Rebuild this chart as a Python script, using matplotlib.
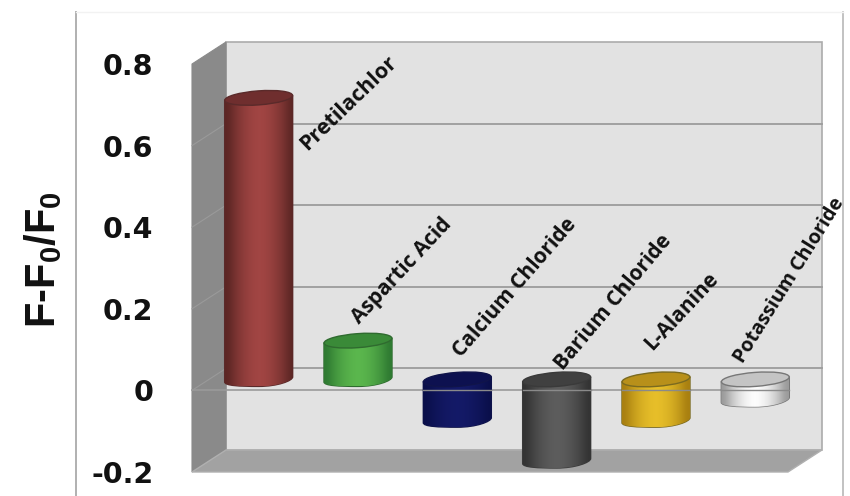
import numpy as np
import matplotlib
matplotlib.use('Agg')
import matplotlib.pyplot as plt
from matplotlib.patches import Ellipse, PathPatch, Polygon
from matplotlib.path import Path
from matplotlib.transforms import IdentityTransform

# dados
categorias = ['Pretilachlor', 'Aspartic Acid', 'Calcium Chloride', 'Barium Chloride', 'L-Alanine', 'Potassium Chloride']
valores = [0.69, 0.095, -0.10, -0.20, -0.10, -0.05]
ticks_y = [-0.2, 0, 0.2, 0.4, 0.6, 0.8]
ticks_txt = ['-0.2', '0', '0.2', '0.4', '0.6', '0.8']

# cor lateral escura, cor lateral clara, tampa
cores = [('#5c2624', '#a34644', '#6f2e2e'),
         ('#2f7a32', '#5cb84e', '#3a8a38'),
         ('#0a0f4a', '#141a68', '#0d1150'),
         ('#333333', '#5e5e5e', '#404040'),
         ('#a87f10', '#e8c02a', '#b8901a'),
         ('#9a9a9a', '#ffffff', '#c4c4c4')]
borda = ['#5a2a2a', '#2f6b2f', '#10144a', '#3a3a3a', '#7a6a20', '#777777']

# posicao do texto em pixels: inicio x, inicio y, angulo, tamanho
pos_rotulos = [(303, 147, 44, 15.5), (355, 321, 47, 15), (457, 354, 49, 15),
               (559, 367, 50, 15), (648, 347, 47, 15), (739, 361, 58, 14.2)]

W, H = 850, 496
esc_x = 99.33   # px por categoria
esc_y = 408.0   # px por unidade de F
prof_x = 34 / esc_x
prof_y = 22 / esc_y
larg = 68 / esc_x
elip_h = 14 / esc_y

plt.rcParams['mathtext.fontset'] = 'custom'
plt.rcParams['mathtext.bf'] = 'Liberation Sans:bold'
plt.rcParams['mathtext.rm'] = 'Liberation Sans:bold'
plt.rcParams['mathtext.default'] = 'bf'


def px(x, y):
    return (x - 192) / esc_x, (472 - y) / esc_y - 0.2


fig = plt.figure(figsize=(W / 100, H / 100), dpi=100)
ax = fig.add_axes([0, 0, 1, 1])
ax.set_xlim((0 - 192) / esc_x, (W - 192) / esc_x)
ax.set_ylim((472 - H) / esc_y - 0.2, 472 / esc_y - 0.2)
ax.axis('off')

n = len(categorias)
y0, y1 = ticks_y[0], ticks_y[-1]

# paredes
ax.add_patch(Polygon([(prof_x, y0 + prof_y), (n + prof_x, y0 + prof_y), (n + prof_x, y1 + prof_y), (prof_x, y1 + prof_y)],
                     fc='#e2e2e2', ec='#ababab', lw=1.2, zorder=1))
ax.add_patch(Polygon([(0, y0), (prof_x, y0 + prof_y), (prof_x, y1 + prof_y), (0, y1)],
                     fc='#8a8a8a', ec='#8a8a8a', lw=0.8, zorder=1))
ax.add_patch(Polygon([(0, y0), (n, y0), (n + prof_x, y0 + prof_y), (prof_x, y0 + prof_y)],
                     fc='#a2a2a2', ec='#b0b0b0', lw=1, zorder=1))

# grades
for t in ticks_y[1:-1]:
    ax.plot([prof_x, n + prof_x], [t + prof_y, t + prof_y], color='#9c9c9c', lw=1.3, zorder=2)
    ax.plot([0, prof_x], [t, t + prof_y], color='#9a9a9a', lw=0.8, zorder=2)

# cilindros
grad = np.array([0, .35, .6, .8, .92, 1, .92, .8, .6, .35, 0])
for i, (v, c, b) in enumerate(zip(valores, cores, borda)):
    cx = i + 0.5 + prof_x / 2
    base = prof_y / 2
    topo = v + prof_y / 2
    sup, inf = max(base, topo), min(base, topo)
    xe, xd = cx - larg / 2, cx + larg / 2
    # inclinacao da elipse em unidades de dados
    inc = 5 / esc_y / 2
    h = elip_h / 2
    k = 0.5522848
    dx = larg / 2

    verts = [(xe, sup - inc), (xe, inf - inc),
             (xe, inf - inc - k * h), (cx - k * dx, inf - h), (cx, inf - h),
             (cx + k * dx, inf - h), (xd, inf + inc - k * h), (xd, inf + inc),
             (xd, sup + inc), (xe, sup - inc)]
    codes = [Path.MOVETO, Path.LINETO, Path.CURVE4, Path.CURVE4, Path.CURVE4,
             Path.CURVE4, Path.CURVE4, Path.CURVE4, Path.LINETO, Path.CLOSEPOLY]
    corpo = PathPatch(Path(verts, codes), fc='none', ec=b, lw=1, zorder=3 + i * 0.1)
    ax.add_patch(corpo)

    c0 = np.array(matplotlib.colors.to_rgb(c[0]))
    c1 = np.array(matplotlib.colors.to_rgb(c[1]))
    img = np.outer(grad, c1 - c0) + c0
    im = ax.imshow(img[np.newaxis, :, :], extent=(xe, xd, inf - h, sup + inc), aspect='auto',
                   interpolation='bicubic', zorder=3 + i * 0.1)
    im.set_clip_path(corpo)

    # tampa
    ang = np.degrees(np.arctan2(5, 68))
    xp, yp = ax.transData.transform((cx, sup))
    tampa = Ellipse((xp, yp), 68, 14, angle=ang, fc=c[2], ec=b, lw=1,
                    transform=IdentityTransform(), zorder=3.05 + i * 0.1)
    ax.add_patch(tampa)

ax.set_xlim((0 - 192) / esc_x, (W - 192) / esc_x)
ax.set_ylim((472 - H) / esc_y - 0.2, 472 / esc_y - 0.2)

# linha do zero na frente, passa sobre as barras negativas
ax.plot([0, n], [0, 0], color='#9a9a9a', lw=1.2, zorder=3.02)
for i, v in enumerate(valores):
    if v < 0:
        cx = i + 0.5 + prof_x / 2
        ax.plot([cx - larg / 2, cx + larg / 2], [0, 0], color='#8a8a8a', lw=1, zorder=6)

# moldura
ax.plot(*zip(px(76, 12), px(76, 496)), color='#b0b0b0', lw=1.4, zorder=1)
ax.plot(*zip(px(843, 12), px(843, 496)), color='#b8b8b8', lw=1.2, zorder=1)
ax.plot(*zip(px(76, 12), px(843, 12)), color='#f2f2f2', lw=1, zorder=1)

# rotulos
for nome, (xt, yt, rot, tam) in zip(categorias, pos_rotulos):
    ax.text(*px(xt, yt), nome, rotation=rot, rotation_mode='anchor', ha='left', va='center',
            family='Open Sans', fontweight='bold', fontsize=tam, color='#111111', zorder=8)

# eixo y
for t, s in zip(ticks_y, ticks_txt):
    ax.text(-0.39, t - 3 / esc_y, s, ha='right', va='center', family='DejaVu Sans', fontweight='bold',
            fontsize=20.5, color='#111111', zorder=8)

ax.text(*px(43, 260), r'$\mathbf{F\text{-}F_{0}/F_{0}}$', rotation=90, ha='center', va='center',
        fontsize=30, color='#111111', zorder=8)

fig.savefig('out.png', dpi=100)
